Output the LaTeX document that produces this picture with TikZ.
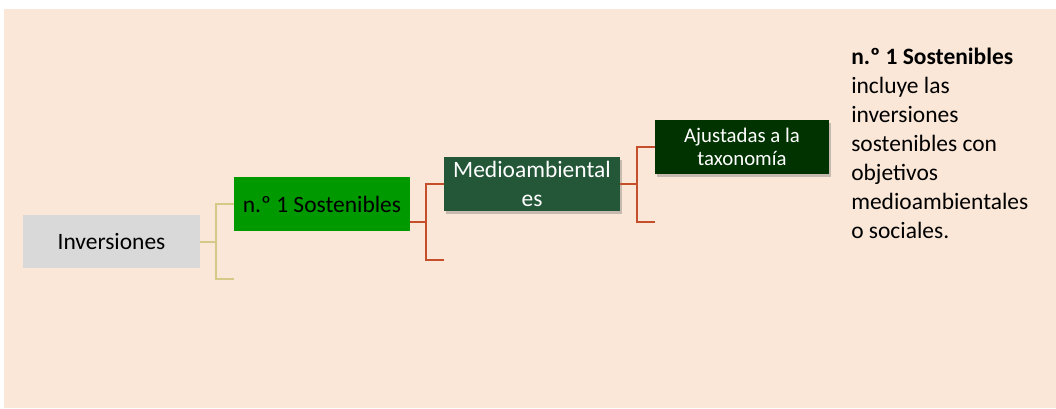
\documentclass[tikz,border=0pt]{standalone}
\usepackage{fontspec}
\setmainfont{Carlito}
\usetikzlibrary{shadows}
\definecolor{bgbeige}{RGB}{250,231,215}
\definecolor{invgray}{RGB}{217,217,217}
\definecolor{sostgreen}{RGB}{0,153,0}
\definecolor{medgreen}{RGB}{36,86,56}
\definecolor{ajgreen}{RGB}{0,51,0}
\definecolor{linered}{RGB}{197,78,43}
\definecolor{lineyel}{RGB}{214,200,135}
\tikzset{
  box/.style={rectangle, inner sep=0pt, align=center, font=\fontsize{17.6}{21.75}\selectfont},
  shbox/.style={box, drop shadow={shadow xshift=1.5pt, shadow yshift=-2pt, opacity=0.35, fill=black!60}},
  yelline/.style={draw=lineyel, line width=1.5pt},
  redline/.style={draw=linered, line width=1.5pt},
}
\begin{document}
\begin{tikzpicture}[x=0.75pt,y=-0.75pt]
\useasboundingbox (0,0) rectangle (1056,408);
\fill[white] (0,0) rectangle (1056,408);
\fill[bgbeige] (4,9) rectangle (1056,408);
% nodes
\node[box, fill=invgray, minimum width=132.75pt, minimum height=40pt] (inv) at (111.5,241.5) {Inversiones};
\node[box, fill=sostgreen, minimum width=132pt, minimum height=40.5pt] (sost) at (322,204) {n.º 1 Sostenibles};
\node[shbox, fill=medgreen, text=white, minimum width=132pt, minimum height=40.5pt] (med) at (532,184) {Medioambiental\\es};
\node[shbox, fill=ajgreen, text=white, minimum width=130.5pt, minimum height=40.5pt, font=\fontsize{15.6}{17.25}\selectfont] (aj) at (742,147) {Ajustadas a la\\taxonomía};
\node[anchor=north west, inner sep=0pt, align=left, font=\fontsize{17.6}{21.75}\selectfont] (txt) at (851,48) {\textbf{n.º 1 Sostenibles}\\incluye las\\inversiones\\sostenibles con\\objetivos\\medioambientales\\o sociales.};
% connector coordinates
\coordinate (j1) at (216,241.5);
\coordinate (e1) at (234,279);
\coordinate (s1) at (410,222);
\coordinate (j2) at (426,222);
\coordinate (e2) at (444,260);
\coordinate (j3) at (637,184);
\coordinate (e3) at (655,222);
% connectors
\draw[yelline] (inv.east) -- (j1) |- (sost.west);
\draw[yelline] (j1) |- (e1);
\draw[redline] (s1) -- (j2) |- (med.west);
\draw[redline] (j2) |- (e2);
\draw[redline] (med.east) -- (j3) |- (aj.west);
\draw[redline] (j3) |- (e3);
\end{tikzpicture}
\end{document}
